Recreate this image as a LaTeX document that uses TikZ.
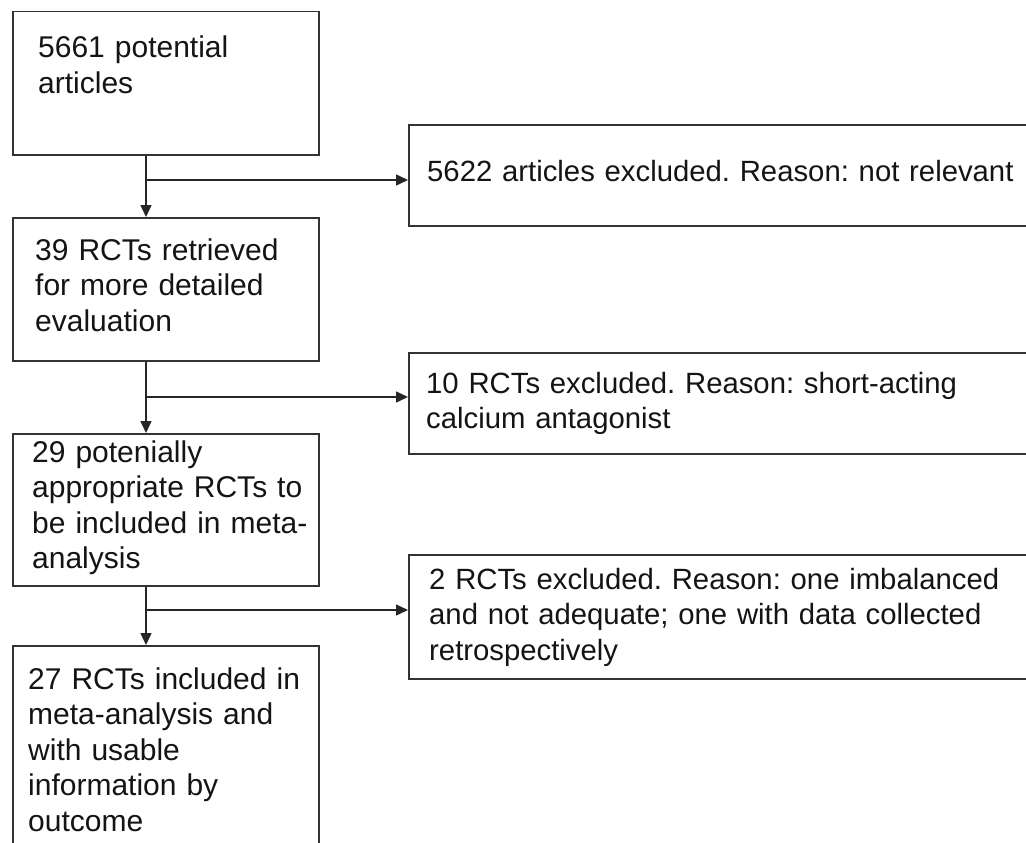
\documentclass[tikz,border=0pt]{standalone}
\usepackage{fontspec}
\setmainfont{Liberation Sans}
\usetikzlibrary{arrows.meta}
\frenchspacing
\begin{document}
\begin{tikzpicture}[x=1pt,y=-1pt,
  box/.style={draw=black!80, line width=1.5pt, rectangle, inner sep=0pt, anchor=north west},
  lbl/.style={anchor=base west, inner sep=0pt, text width=#1, align=left, text=black!92},
  lfont/.style={font=\fontsize{30}{35.5}\selectfont},
  rfont/.style={font=\fontsize{29.3}{35.5}\selectfont},
  arr/.style={draw=black!85, line width=1.5pt, -{Triangle[length=12pt,width=11pt]}}]
\useasboundingbox (0,0) rectangle (1026,843);
\clip (0,0) rectangle (1026,843);
\fill[white] (0,0) rectangle (1026,843);

% left column boxes
\node[box, minimum width=306pt, minimum height=143pt] (b1) at (12,11) {};
\node[box, minimum width=306pt, minimum height=143pt] (b2) at (12,217) {};
\node[box, minimum width=306pt, minimum height=152pt] (b3) at (12,433) {};
\node[box, minimum width=306pt, minimum height=300pt] (b4) at (12,645) {};
% right column boxes
\node[box, minimum width=700pt, minimum height=101pt] (r1) at (408,124) {};
\node[box, minimum width=700pt, minimum height=101pt] (r2) at (408,352) {};
\node[box, minimum width=700pt, minimum height=124pt] (r3) at (408,554) {};

% texts
\node[lbl=285pt, lfont] (t1) at (38,58) {5661 potential\\articles};
\node[lbl=285pt, lfont] (t2) at (35,260) {39 RCTs retrieved\\for more detailed\\evaluation};
\node[lbl=285pt, lfont] (t3) at (32,462) {29 potenially\\appropriate RCTs to\\be included in meta-\\analysis};
\node[lbl=285pt, lfont] (t4) at (28,689) {27 RCTs included in\\meta-analysis and\\with usable\\information by\\outcome};
\node[lbl=650pt, rfont] (tr1) at (427,181) {5622 articles excluded. Reason: not relevant};
\node[lbl=650pt, rfont] (tr2) at (426,393) {10 RCTs excluded. Reason: short-acting\\calcium antagonist};
\node[lbl=650pt, rfont] (tr3) at (429,589) {2 RCTs excluded. Reason: one imbalanced\\and not adequate; one with data collected\\retrospectively};

% connectors
\coordinate (j1) at (146,180);
\coordinate (j2) at (146,397);
\coordinate (j3) at (146,610);
\draw[arr] (j1 |- b1.south) -- (j1 |- b2.north);
\draw[arr] (j1) -- (j1 -| r1.west);
\draw[arr] (j2 |- b2.south) -- (j2 |- b3.north);
\draw[arr] (j2) -- (j2 -| r2.west);
\draw[arr] (j3 |- b3.south) -- (j3 |- b4.north);
\draw[arr] (j3) -- (j3 -| r3.west);
\end{tikzpicture}
\end{document}
